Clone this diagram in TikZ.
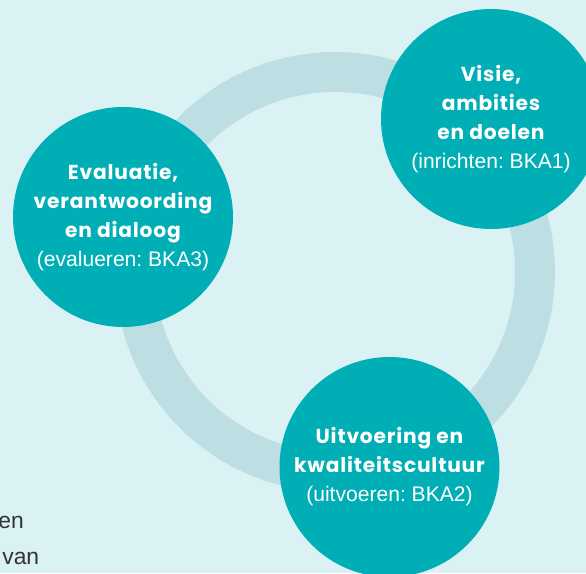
\documentclass[tikz,border=0pt]{standalone}
\usepackage{fontspec}
\setmainfont{Liberation Sans}
\newfontfamily\titelfont[LetterSpace=4]{Poppins}
\frenchspacing

\definecolor{achtergrond}{HTML}{DAF2F4}
\definecolor{ringkleur}{HTML}{BDDFE3}
\definecolor{turkoois}{HTML}{00AEB6}
\definecolor{tekstkleur}{HTML}{333333}

\newcommand{\ondertitel}[1]{{\normalfont\fontsize{12}{16.5}\selectfont #1}}

\tikzset{
  fase/.style={circle, fill=turkoois, minimum size=4.4cm, inner sep=0pt,
    align=center, text=white, font=\titelfont\bfseries\fontsize{11.5}{16.5}\selectfont},
  lopend/.style={anchor=base west, inner sep=0pt, text=tekstkleur, font=\fontsize{13}{15}\selectfont},
}

\begin{document}
\begin{tikzpicture}[scale=1]
    \fill[achtergrond] (0,0) rectangle (11.72,11.46);
    \useasboundingbox (0,0) rectangle (11.72,11.46);
    \draw[ringkleur, line width=0.8cm] (6.70,6.02) circle (4.0);
    \node[fase] (visie) at (9.82,9.08) {Visie,\\ambities\\en doelen\\\ondertitel{(inrichten: BKA1)}};
    \node[fase] (evaluatie) at (2.46,7.12) {Evaluatie,\\verantwoording\\en dialoog\\\ondertitel{(evalueren: BKA3)}};
    \node[fase] (uitvoering) at (7.79,2.12) {Uitvoering en\\kwaliteitscultuur\\\ondertitel{(uitvoeren: BKA2)}};
    \node[lopend] (en) at (-0.04,0.88) {en};
    \node[lopend] (van) at (0.04,0.18) {van};
    \end{tikzpicture}
\end{document}
